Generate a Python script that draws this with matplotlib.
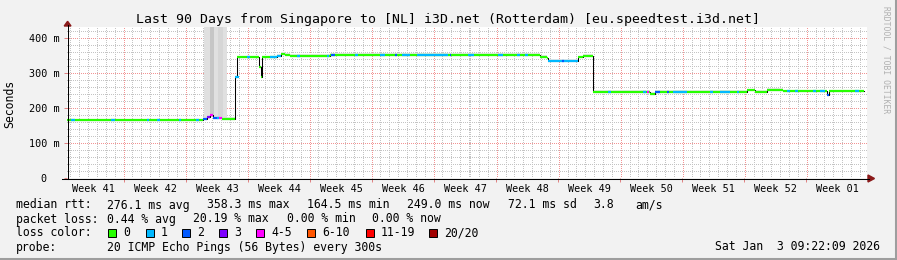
import matplotlib

matplotlib.use("Agg")
import matplotlib.pyplot as plt
import numpy as np
from matplotlib.colors import to_rgba
from matplotlib.lines import Line2D
from matplotlib.patches import Polygon, Rectangle

W, H = 897, 260

# median rtt, as steps: start day in the 90 day window, value in ms, loss code
step_start = [0, 4.85, 15.35, 15.8, 16.15, 16.5, 17.05, 17.5, 18.95, 19.2,
              21.65, 21.85, 22.05, 23.7, 24.15, 24.6, 25.2, 29.7, 53.4, 54.2,
              54.3, 57.7, 58.25, 59.4, 65.8, 66.4, 76.8, 77.7, 79.0, 80.8,
              85.8, 86.0]
step_ms = [165, 167, 170, 175, 179, 172, 171, 170, 290, 345,
           318, 290, 346, 350, 355, 352, 349, 352, 347, 342,
           336, 345, 350, 246, 241, 246, 251, 247, 252, 248,
           237, 248]
step_loss = [0, 0, 2, 3, 4, 2, 4, 0, 1, 0,
             0, 0, 0, 1, 0, 0, 0, 0, 0, 0,
             1, 0, 0, 0, 0, 0, 0, 0, 0, 0,
             2, 0]
# light smoke above the median (ms)
step_smoke = [2, 2, 4, 4, 4, 4, 4, 4, 0, 4,
              0, 0, 4, 5, 5, 5, 5, 5, 5, 4,
              4, 4, 4, 5, 5, 5, 5, 5, 5, 5,
              0, 5]
end_day = 90

# short loss spots along the line
spot_day = [0.5, 5.0, 9.0, 10.2, 12.6, 14.6, 16.9, 19.1, 20.3, 22.9,
            26.0, 29.3, 29.8, 32.5, 35.3, 37.0, 37.8, 39.5, 43.2, 45.3,
            48.7, 50.8, 51.7, 55.9, 61.1, 65.0, 65.5, 66.4, 67.7, 68.4,
            72.6, 73.7, 75.6, 81.3, 82.2, 84.2, 85.0, 89.0]
spot_len = [0.4, 0.4, 0.3, 0.3, 0.3, 0.3, 0.3, 0.3, 0.4, 0.8,
            0.3, 0.3, 0.4, 0.3, 0.6, 0.2, 0.9, 3.5, 0.2, 0.6,
            0.5, 0.3, 0.3, 0.2, 0.3, 0.4, 0.2, 0.5, 0.2, 1.6,
            0.3, 1.1, 0.3, 0.3, 0.3, 0.3, 0.6, 0.4]
spot_loss = [1, 1, 1, 1, 1, 1, 1, 1, 1, 1,
             1, 1, 2, 1, 1, 2, 1, 1, 2, 1,
             1, 1, 1, 2, 1, 1, 4, 2, 2, 1,
             1, 1, 1, 1, 1, 1, 1, 1]

# tall smoke columns in week 43 (spread level 1..3)
band_start = [15.45, 16.1, 16.6, 17.1, 17.6]
band_end = [16.1, 16.6, 17.1, 17.6, 18.1]
band_level = [1, 3, 1, 2, 1]

week41_start = -0.56
week_labels = ["Week 41", "Week 42", "Week 43", "Week 44", "Week 45", "Week 46",
               "Week 47", "Week 48", "Week 49", "Week 50", "Week 51", "Week 52",
               "Week 01"]
y_ticks = [0, 100, 200, 300, 400]
y_labels = ["0  ", "100 m", "200 m", "300 m", "400 m"]

loss_names = ["0", "1", "2", "3", "4-5", "6-10", "11-19", "20/20"]
loss_colors = ["#26ff00", "#00b8ff", "#0059ff", "#7e00ff", "#ff00ff",
               "#ff5500", "#ff0000", "#a10000"]
rtt_stats = ["276.1 ms avg", "358.3 ms max", "164.5 ms min", "249.0 ms now",
             "72.1 ms sd", "3.8", "am/s"]
loss_stats = ["0.44 % avg", "20.19 % max", "0.00 % min", "0.00 % now"]
probe_text = "20 ICMP Echo Pings (56 Bytes) every 300s"
stamp = "Sat Jan  3 09:22:09 2026"
title = "Last 90 Days from Singapore to [NL] i3D.net (Rotterdam) [eu.speedtest.i3d.net]"

plt.rcParams["font.family"] = ["DejaVu Sans Mono"]


def fx(px):
    return px / W


def fy(py):
    return 1 - py / H


# canvas: 800 x 151 px, x0 = 67, zero line at y = 178
cw, ch = 800, 151
top = 432
xmax = 90.3
fig = plt.figure(figsize=(W / 100, H / 100), dpi=100, facecolor="#f2f2f2")
ax = fig.add_axes([fx(67), fy(178), cw / W, ch / H])
ax.set_facecolor("white")
ax.set_xlim(0, xmax)
ax.set_ylim(0, top)
for s in ax.spines.values():
    s.set_visible(False)

# dotted grid (1px on / 1px off), painted as a pixel image on the canvas
minor_c, major_c = to_rgba("#c4c4c4"), to_rgba("#f29494")
grid = np.zeros((ch, cw, 4))
n_weeks = len(week_labels)
bounds = [week41_start + 7 * k for k in range(n_weeks + 1)]
for v in range(20, top, 20):
    r = int(round((top - v) / top * ch))
    if 0 <= r < ch:
        grid[r, ::2] = major_c if v % 100 == 0 else minor_c
for k in range(7 * n_weeks + 1):
    d = week41_start + k
    if 0 < d < xmax:
        c = int(d / xmax * cw)
        col = grid[1::2, c]
        col[:] = major_c if k % 7 == 0 else minor_c
ax.imshow(grid, extent=(0, xmax, 0, top), aspect="auto",
          interpolation="nearest", zorder=0.5)

xs = np.r_[step_start, end_day]
ys = np.r_[step_ms, step_ms[-1]]
sm = np.r_[step_smoke, step_smoke[-1]]


def median_at(d):
    i = np.searchsorted(step_start, d, side="right") - 1
    return step_ms[i]


# smoke
ax.fill_between(xs, ys, ys + sm, step="post", color="#e8e8e8", lw=0, zorder=1)
band_grey = {1: "#e0e0e0", 2: "#d6d6d6", 3: "#c6c6c6"}
for s, e, lv in zip(band_start, band_end, band_level):
    ax.fill_between([s, e], [median_at(s)] * 2, [top] * 2,
                    color=band_grey[lv], lw=0, zorder=1)

# median line
ax.step(xs, ys, where="post", color="black", lw=0.75, zorder=2)
ax.hlines(step_ms, step_start, list(step_start[1:]) + [end_day],
          colors=[loss_colors[c] for c in step_loss], lw=1.6, zorder=3)
for d, ln, c in zip(spot_day, spot_len, spot_loss):
    ax.hlines(median_at(d), d, d + ln, colors=loss_colors[c], lw=1.6, zorder=4)

# ticks
ax.set_yticks(y_ticks, labels=y_labels)
ax.tick_params(axis="y", length=2.5, width=0.7, color="#e08080", pad=3,
               labelsize=7.3)
ax.set_xticks([b for b in bounds if 0 < b < xmax], labels=[])
ax.set_xticks([b + 3.5 for b in bounds[:-1]], labels=week_labels, minor=True)
ax.tick_params(axis="x", which="major", length=3, width=0.7, color="#e08080")
ax.tick_params(axis="x", which="minor", length=0, pad=4.5, labelsize=7.3)

# axes with arrows
fig.add_artist(Line2D([fx(67.5), fx(67.5)], [fy(25), fy(178.5)], color="black",
                      lw=0.75, transform=fig.transFigure))
fig.add_artist(Line2D([fx(62), fx(869)], [fy(178.5), fy(178.5)], color="black",
                      lw=0.75, transform=fig.transFigure))
fig.add_artist(Polygon([(fx(64.2), fy(26)), (fx(71), fy(26)), (fx(67.6), fy(21.3))],
                       closed=True, color="#8b1a1a", transform=fig.transFigure))
fig.add_artist(Polygon([(fx(868), fy(175)), (fx(868), fy(182)), (fx(874.5), fy(178.5))],
                       closed=True, color="#8b1a1a", transform=fig.transFigure))

# texts
fig.text(fx(448), fy(19), title, ha="center", va="center", fontsize=9.5)
fig.text(fx(10), fy(103.5), "Seconds", rotation=90, ha="center", va="center",
         fontsize=8.3)
fig.text(fx(886), fy(60), "RRDTOOL / TOBI OETIKER", rotation=-90, ha="center",
         va="center", fontsize=5.8, color="#b0b0b0")

lfs = 8.3
row_y = [208.5, 222.5, 236.5, 250.5]
fig.text(fx(16), fy(row_y[0]), "median rtt:", fontsize=lfs, va="baseline")
for x, t in zip([107, 207, 307, 407, 508, 593, 635], rtt_stats):
    fig.text(fx(x), fy(row_y[0]), t, fontsize=lfs, va="baseline")
fig.text(fx(16), fy(row_y[1]), "packet loss:", fontsize=lfs, va="baseline")
for x, t in zip([107, 193, 287, 372], loss_stats):
    fig.text(fx(x), fy(row_y[1]), t, fontsize=lfs, va="baseline")
fig.text(fx(16), fy(row_y[2]), "loss color:", fontsize=lfs, va="baseline")
box_x = [108, 146, 182, 219, 256, 307, 366, 429]
for bx, name, c in zip(box_x, loss_names, loss_colors):
    fig.add_artist(Rectangle((fx(bx), fy(237)), 8 / W, 8 / H, facecolor=c,
                             edgecolor="black", lw=0.7, transform=fig.transFigure))
    fig.text(fx(bx + 15), fy(row_y[2]), name, fontsize=lfs, va="baseline")
fig.text(fx(16), fy(row_y[3]), "probe:", fontsize=lfs, va="baseline")
fig.text(fx(107), fy(row_y[3]), probe_text, fontsize=lfs, va="baseline")
fig.text(fx(880), fy(row_y[3]), stamp, fontsize=lfs, va="baseline", ha="right")

# 3d frame
fig.add_artist(Line2D([fx(895.5), fx(895.5)], [0, 1], color="#9e9e9e", lw=2.2,
                      transform=fig.transFigure))
fig.add_artist(Line2D([0, 1], [fy(258.5), fy(258.5)], color="#9e9e9e", lw=2.2,
                      transform=fig.transFigure))

fig.savefig("out.png", dpi=100, facecolor=fig.get_facecolor())
